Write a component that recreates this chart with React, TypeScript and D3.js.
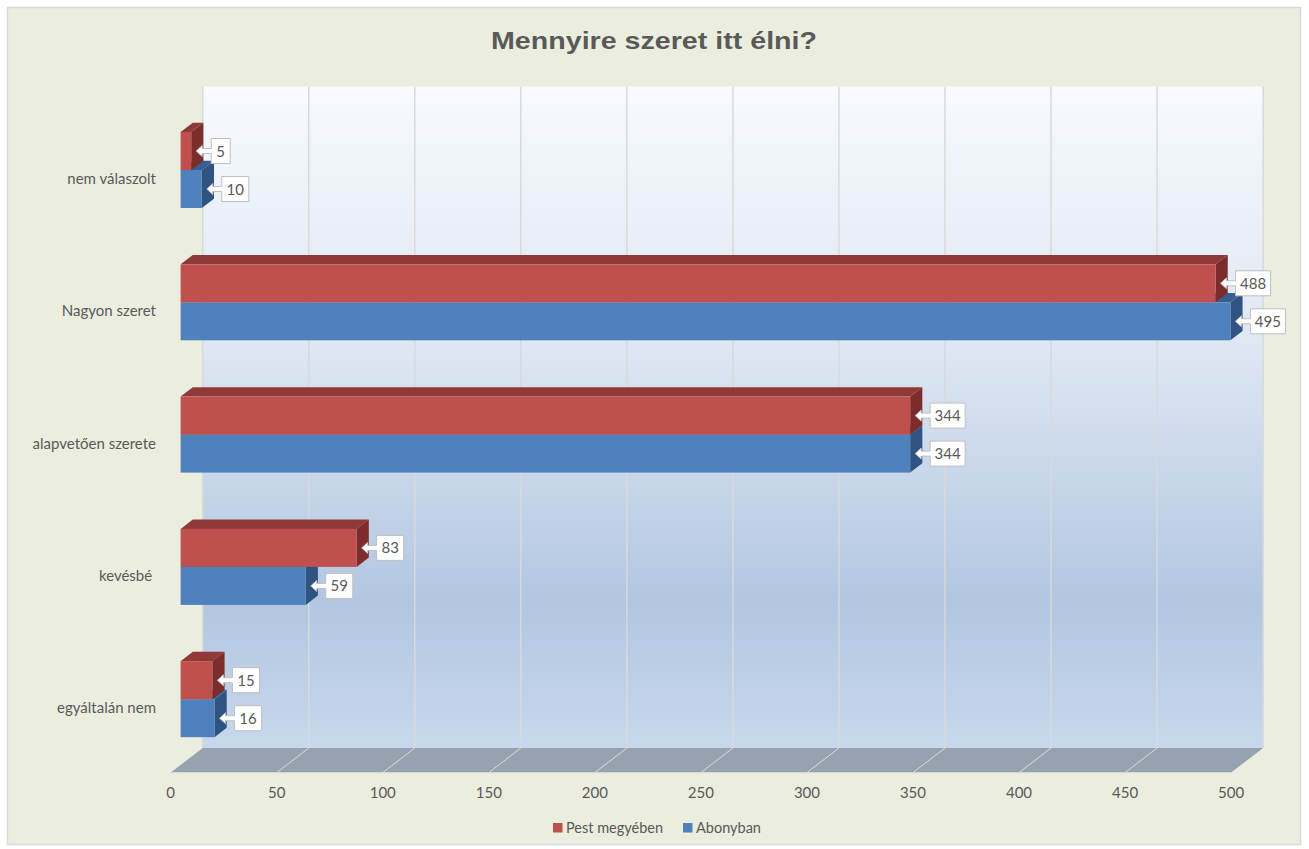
import React from "react";
import * as d3 from "d3";

const categories = ["nem válaszolt", "Nagyon szeret", "alapvetően szerete", "kevésbé ", "egyáltalán nem"];
const pestValues = [5, 488, 344, 83, 15];
const abonyValues = [10, 495, 344, 59, 16];
const tickValues = [0, 50, 100, 150, 200, 250, 300, 350, 400, 450, 500];
const seriesNames = ["Pest megyében", "Abonyban"];

const W = 1309;
const H = 849;
const FONT = "Lato, 'Open Sans', sans-serif";
const TXT = "#595959";

// projection geometry
const frontX0 = 170.7;
const depthDX = 32;
const depthDY = -24.6;
const wallTop = 86.7;
const wallBottom = 748;
const floorFront = wallBottom - depthDY;
const barDepth0 = 0.31;
const barDepth1 = 0.69;
const barH = 38;

const x = d3.scaleLinear().domain([0, 500]).range([0, 1060.4]);
const y = d3.scaleBand<string>().domain(categories).range([103.85, 765.35]).paddingInner(0).paddingOuter(0);

const px = (v: number, depth: number) => frontX0 + x(v) + depth * depthDX;

function Bar({ v, top, front, side, topC }: { v: number; top: number; front: string; side: string; topC: string }) {
  const fx0 = px(0, barDepth0);
  const fx1 = px(v, barDepth0);
  const dd = barDepth1 - barDepth0;
  const ddx = dd * depthDX;
  const ddy = dd * depthDY;
  const bot = top + barH;
  const topPath = `M${fx0},${top} L${fx1},${top} L${fx1 + ddx},${top + ddy} L${fx0 + ddx},${top + ddy} Z`;
  const sidePath = `M${fx1},${top} L${fx1 + ddx},${top + ddy} L${fx1 + ddx},${bot + ddy} L${fx1},${bot} Z`;
  return (
    <g>
      <path d={topPath} fill={topC} />
      <path d={sidePath} fill={side} />
      <rect x={fx0} y={top} width={fx1 - fx0} height={barH} fill={front} />
    </g>
  );
}

function Callout({ v, cy }: { v: number; cy: number }) {
  const fx1 = px(v, barDepth0);
  const tip = fx1 + 5;
  const bl = fx1 + 20;
  const label = String(v);
  const bw = label.length * 8 + 11;
  const br = bl + bw;
  const t = cy - 12.5;
  const b = cy + 12.5;
  const d = `M${bl},${t} L${br},${t} L${br},${b} L${bl},${b} L${bl},${cy + 2.5} L${tip + 6},${cy + 2.5} L${tip + 6},${cy + 5.5} L${tip},${cy} L${tip + 6},${cy - 5.5} L${tip + 6},${cy - 2.5} L${bl},${cy - 2.5} Z`;
  return (
    <g>
      <path d={d} fill="#ffffff" stroke="#BFBFBF" strokeWidth={1} />
      <text x={(bl + br) / 2} y={cy + 5.5} textAnchor="middle" fontSize={15} fill={TXT} fontFamily={FONT}>
        {label}
      </text>
    </g>
  );
}

export default function App() {
  const bw = y.bandwidth();
  return (
    <svg width={W} height={H} style={{ position: "absolute", left: 0, top: 0, display: "block" }}>
      <defs>
        <linearGradient id="wallGrad" x1="0" y1="0" x2="0" y2="1">
          <stop offset="0" stopColor="#F7FAFE" />
          <stop offset="0.4" stopColor="#DDE6F2" />
          <stop offset="0.78" stopColor="#B2C6E1" />
          <stop offset="1" stopColor="#C8D8EC" />
        </linearGradient>
      </defs>
      <rect x={0} y={0} width={W} height={H} fill="#ffffff" />
      <rect x={7.5} y={7.5} width={1293} height={837} fill="#EBEEDE" stroke="#D9D9D9" strokeWidth={1.5} />

      <text x={654} y={49} textAnchor="middle" fontSize={24} fontWeight="bold" fill={TXT} fontFamily="'Liberation Sans', Arial, sans-serif" textLength={326} lengthAdjust="spacingAndGlyphs">
        Mennyire szeret itt élni?
      </text>

      {/* back wall */}
      <rect x={px(0, 1)} y={wallTop} width={x(500)} height={wallBottom - wallTop} fill="url(#wallGrad)" />
      {tickValues.map((t) => (
        <line key={"g" + t} x1={px(t, 1)} x2={px(t, 1)} y1={wallTop} y2={wallBottom} stroke="#D9D9D9" strokeWidth={1.5} />
      ))}

      {/* floor */}
      <path
        d={`M${px(0, 0)},${floorFront} L${px(500, 0)},${floorFront} L${px(500, 1)},${wallBottom} L${px(0, 1)},${wallBottom} Z`}
        fill="#97A2B1"
      />
      {tickValues.slice(1, -1).map((t) => (
        <line key={"f" + t} x1={px(t, 0)} y1={floorFront} x2={px(t, 1)} y2={wallBottom} stroke="#D9D9D9" strokeWidth={1} />
      ))}
      <line x1={px(0, 0)} x2={px(500, 0)} y1={floorFront} y2={floorFront} stroke="#D9D9D9" strokeWidth={1} />

      {/* tick labels */}
      {tickValues.map((t) => (
        <text key={"t" + t} x={px(t, 0)} y={798} textAnchor="middle" fontSize={15} fill={TXT} fontFamily={FONT}>
          {t}
        </text>
      ))}

      {/* category labels */}
      {categories.map((c) => (
        <text key={"c" + c} x={156} y={(y(c) as number) + bw / 2 + 14} textAnchor="end" fontSize={15} fill={TXT} fontFamily={FONT} style={{ whiteSpace: "pre" }}>
          {c}
        </text>
      ))}

      {/* bars: blue first, then red */}
      {categories.map((c, i) => {
        const cy = (y(c) as number) + bw / 2;
        return (
          <g key={"b" + c}>
            <Bar v={abonyValues[i]} top={cy} front="#4F81BD" side="#2F5482" topC="#395F92" />
            <Bar v={pestValues[i]} top={cy - barH} front="#C0504D" side="#7C2D2B" topC="#8F3A38" />
          </g>
        );
      })}

      {/* callouts */}
      {categories.map((c, i) => {
        const cy = (y(c) as number) + bw / 2;
        return (
          <g key={"l" + c}>
            <Callout v={pestValues[i]} cy={cy - barH / 2} />
            <Callout v={abonyValues[i]} cy={cy + barH / 2} />
          </g>
        );
      })}

      {/* legend */}
      <rect x={553} y={823} width={9.5} height={9.5} fill="#C0504D" />
      <text x={566} y={832.5} fontSize={14.5} fill={TXT} fontFamily={FONT}>
        {seriesNames[0]}
      </text>
      <rect x={683} y={823} width={9.5} height={9.5} fill="#4F81BD" />
      <text x={696} y={832.5} fontSize={14.5} fill={TXT} fontFamily={FONT}>
        {seriesNames[1]}
      </text>
    </svg>
  );
}
